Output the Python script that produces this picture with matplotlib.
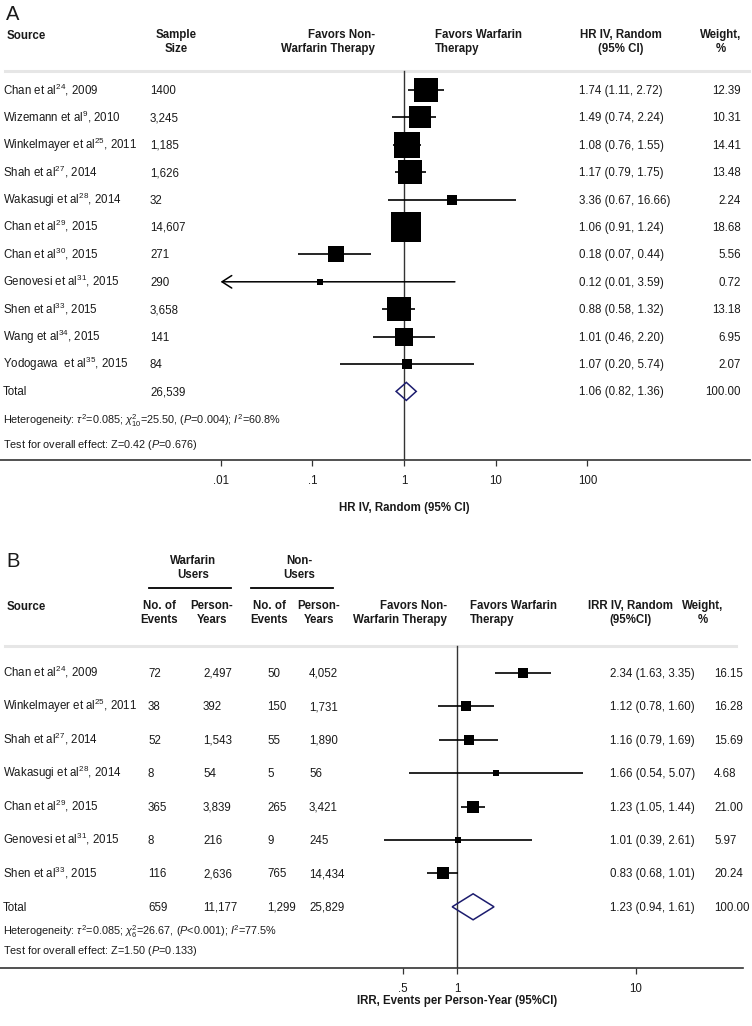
import numpy as np
import matplotlib
matplotlib.use("Agg")
import matplotlib.pyplot as plt

plt.rcParams["font.family"] = ["Liberation Sans", "DejaVu Sans"]
plt.rcParams["mathtext.fontset"] = "custom"
plt.rcParams["mathtext.rm"] = "Liberation Sans"
plt.rcParams["mathtext.it"] = "Liberation Sans:italic"
plt.rcParams["mathtext.bf"] = "Liberation Sans:bold"

# ---- panel A : HR
a_src = [r"Chan et al$^{24}$, 2009", r"Wizemann et al$^{9}$, 2010", r"Winkelmayer et al$^{25}$, 2011",
         r"Shah et al$^{27}$, 2014", r"Wakasugi et al$^{28}$, 2014", r"Chan et al$^{29}$, 2015",
         r"Chan et al$^{30}$, 2015", r"Genovesi et al$^{31}$, 2015", r"Shen et al$^{33}$, 2015",
         r"Wang et al$^{34}$, 2015", r"Yodogawa  et al$^{35}$, 2015"]
a_n = ["1400", "3,245", "1,185", "1,626", "32", "14,607", "271", "290", "3,658", "141", "84"]
a_hr = [1.74, 1.49, 1.08, 1.17, 3.36, 1.06, 0.18, 0.12, 0.88, 1.01, 1.07]
a_lo = [1.11, 0.74, 0.76, 0.79, 0.67, 0.91, 0.07, 0.01, 0.58, 0.46, 0.20]
a_hi = [2.72, 2.24, 1.55, 1.75, 16.66, 1.24, 0.44, 3.59, 1.32, 2.20, 5.74]
a_w = [12.39, 10.31, 14.41, 13.48, 2.24, 18.68, 5.56, 0.72, 13.18, 6.95, 2.07]
a_tot_n = "26,539"
a_tot = (1.06, 0.82, 1.36, 100.00)
a_ticks = [0.01, 0.1, 1, 10, 100]
a_ticklabels = [".01", ".1", "1", "10", "100"]
a_het = r"Heterogeneity: $\tau^2$=0.085; $\chi^2_{10}$=25.50, ($P$=0.004); $I^2$=60.8%"
a_test = r"Test for overall effect: Z=0.42 ($P$=0.676)"

# ---- panel B : IRR
b_src = [r"Chan et al$^{24}$, 2009", r"Winkelmayer et al$^{25}$, 2011", r"Shah et al$^{27}$, 2014",
         r"Wakasugi et al$^{28}$, 2014", r"Chan et al$^{29}$, 2015", r"Genovesi et al$^{31}$, 2015",
         r"Shen et al$^{33}$, 2015"]
b_ev_w = [72, 38, 52, 8, 365, 8, 116]
b_py_w = [2497, 392, 1543, 54, 3839, 216, 2636]
b_ev_n = [50, 150, 55, 5, 265, 9, 765]
b_py_n = [4052, 1731, 1890, 56, 3421, 245, 14434]
b_irr = [2.34, 1.12, 1.16, 1.66, 1.23, 1.01, 0.83]
b_lo = [1.63, 0.78, 0.79, 0.54, 1.05, 0.39, 0.68]
b_hi = [3.35, 1.60, 1.69, 5.07, 1.44, 2.61, 1.01]
b_w = [16.15, 16.28, 15.69, 4.68, 21.00, 5.97, 20.24]
b_tot_counts = [659, 11177, 1299, 25829]
b_tot = (1.23, 0.94, 1.61, 100.00)
b_ticks = [0.5, 1, 10]
b_ticklabels = [".5", "1", "10"]
b_het = r"Heterogeneity: $\tau^2$=0.085; $\chi^2_{6}$=26.67, ($P$<0.001); $I^2$=77.5%"
b_test = r"Test for overall effect: Z=1.50 ($P$=0.133)"

W, H = 752, 1026
FS = 8.3
TXT = "#1a1a1a"
LINE = "#333333"
NAVY = "#1c1c6e"
SEP = "#e6e6e6"

fig = plt.figure(figsize=(W / 100, H / 100), dpi=100)


def make_ax(top, bottom, one_px, decade):
    ax = fig.add_axes([0, (H - bottom) / H, 1, (bottom - top) / H])
    ax.set_xscale("log")
    ax.set_xlim(10 ** (-one_px / decade), 10 ** ((W - one_px) / decade))
    ax.set_ylim(bottom, top)
    for s in ax.spines.values():
        s.set_visible(False)
    ax.set_yticks([])
    ax.minorticks_off()
    ax.tick_params(axis="x", direction="out", length=4.5, width=0.9, color=LINE,
                   labelsize=FS, pad=6, labelcolor=TXT)
    ax.set_facecolor("none")
    return ax


def txt(ax, px, y, s, ha="left", bold=False, size=FS, **kw):
    # header / multi-line text, centred on y
    ax.text(px / W, y, s, transform=ax.get_yaxis_transform(), ha=ha, va="center",
            fontsize=size, color=TXT, fontweight="bold" if bold else "normal",
            linespacing=1.15, **kw)


def cell(ax, px, y, s, ha="left", size=FS):
    # table cells share one baseline so superscripts don't shift rows
    ax.text(px / W, y + 4, s, transform=ax.get_yaxis_transform(), ha=ha, va="baseline",
            fontsize=size, color=TXT)


def hline(ax, x0, x1, y, **kw):
    ax.plot([x0 / W, x1 / W], [y, y], transform=ax.get_yaxis_transform(), clip_on=False, **kw)


def fmt_ci(e, lo, hi):
    return f"{e:.2f} ({lo:.2f}, {hi:.2f})"


# ================= Panel A =================
axA = make_ax(0, 460, 404, 91.7)
y0, step = 90, 27.4
ya = [y0 + i * step for i in range(len(a_src) + 1)]

txt(axA, 6, 15, "A", size=14.5)
txt(axA, 7, 36, "Source", bold=True)
txt(axA, 176, 42, "Sample\nSize", ha="center", bold=True)
txt(axA, 375, 42, "Favors Non-\nWarfarin Therapy", ha="right", bold=True, multialignment="right")
txt(axA, 435, 42, "Favors Warfarin\nTherapy", bold=True)
txt(axA, 621, 42, "HR IV, Random\n(95% CI)", ha="center", bold=True)
txt(axA, 721, 42, "Weight,\n%", ha="center", bold=True)
hline(axA, 5, 749, 71, color=SEP, lw=2.2)

axA.plot([1, 1], [71, 460], color=LINE, lw=1, zorder=2)

for i, (s, n, e, lo, hi, w) in enumerate(zip(a_src, a_n, a_hr, a_lo, a_hi, a_w)):
    y = ya[i]
    cell(axA, 3, y, s)
    cell(axA, 150, y, n)
    cell(axA, 579, y, fmt_ci(e, lo, hi))
    cell(axA, 741, y, f"{w:.2f}", ha="right")
    if lo <= a_ticks[0]:
        axA.annotate("", xy=(a_ticks[0], y), xytext=(hi, y),
                     arrowprops=dict(arrowstyle="->,head_length=0.7,head_width=0.45",
                                     color="black", lw=1.1, shrinkA=0, shrinkB=0))
    else:
        axA.hlines(y, lo, hi, color="black", lw=1.2, zorder=3)
    axA.scatter([e], [y], marker="s", s=(4.9 * np.sqrt(w)) ** 2, color="black",
                linewidths=0, zorder=4)

yt = ya[-1]
e, lo, hi, w = a_tot
cell(axA, 3, yt, "Total")
cell(axA, 150, yt, a_tot_n)
cell(axA, 579, yt, fmt_ci(e, lo, hi))
cell(axA, 741, yt, f"{w:.2f}", ha="right")
axA.fill([lo, e, hi, e], [yt, yt - 9, yt, yt + 9], facecolor="none", edgecolor=NAVY, lw=1.1, zorder=4)

cell(axA, 3, 420, a_het, size=7.8)
cell(axA, 3, 444, a_test, size=7.8)
hline(axA, 0, 750, 460, color=LINE, lw=1.2)
axA.set_xticks(a_ticks)
axA.set_xticklabels(a_ticklabels)
axA.text(1, 508, "HR IV, Random (95% CI)", ha="center", va="center", fontsize=FS,
         fontweight="bold", color=TXT)

# ================= Panel B =================
axB = make_ax(500, 968, 457, 179)
y0, step = 673, 33.4
yb = [y0 + i * step for i in range(len(b_src) + 1)]

txt(axB, 6, 562, "B", size=14.5)
txt(axB, 193, 568, "Warfarin\nUsers", ha="center", bold=True)
txt(axB, 299, 568, "Non-\nUsers", ha="center", bold=True)
hline(axB, 149, 231, 588, color="black", lw=1.3)
hline(axB, 251, 333, 588, color="black", lw=1.3)
txt(axB, 7, 607, "Source", bold=True)
txt(axB, 159, 613, "No. of\nEvents", ha="center", bold=True)
txt(axB, 212, 613, "Person-\nYears", ha="center", bold=True)
txt(axB, 269, 613, "No. of\nEvents", ha="center", bold=True)
txt(axB, 319, 613, "Person-\nYears", ha="center", bold=True)
txt(axB, 447, 613, "Favors Non-\nWarfarin Therapy", ha="right", bold=True, multialignment="right")
txt(axB, 470, 613, "Favors Warfarin\nTherapy", bold=True)
txt(axB, 630, 613, "IRR IV, Random\n(95%CI)", ha="center", bold=True)
txt(axB, 703, 613, "Weight,\n%", ha="center", bold=True)
hline(axB, 5, 736, 646, color=SEP, lw=2.2)

axB.plot([1, 1], [646, 968], color=LINE, lw=1, zorder=2)

for i in range(len(b_src)):
    y = yb[i]
    cell(axB, 3, y, b_src[i])
    cell(axB, 148, y, f"{b_ev_w[i]:,}")
    cell(axB, 203, y, f"{b_py_w[i]:,}")
    cell(axB, 267, y, f"{b_ev_n[i]:,}")
    cell(axB, 309, y, f"{b_py_n[i]:,}")
    cell(axB, 610, y, fmt_ci(b_irr[i], b_lo[i], b_hi[i]))
    cell(axB, 714, y, f"{b_w[i]:.2f}")
    axB.hlines(y, b_lo[i], b_hi[i], color="black", lw=1.2, zorder=3)
    axB.scatter([b_irr[i]], [y], marker="s", s=(1.85 * np.sqrt(b_w[i])) ** 2, color="black",
                linewidths=0, zorder=4)

yt = yb[-1]
e, lo, hi, w = b_tot
cell(axB, 3, yt, "Total")
for px, v in zip([148, 203, 267, 309], b_tot_counts):
    cell(axB, px, yt, f"{v:,}")
cell(axB, 610, yt, fmt_ci(e, lo, hi))
cell(axB, 714, yt, f"{w:.2f}")
axB.fill([lo, e, hi, e], [yt, yt - 13, yt, yt + 13], facecolor="none", edgecolor=NAVY, lw=1.1, zorder=4)

cell(axB, 3, 931, b_het, size=7.8)
cell(axB, 3, 950, b_test, size=7.8)
hline(axB, 0, 743, 968, color=LINE, lw=1.2)
axB.set_xticks(b_ticks)
axB.set_xticklabels(b_ticklabels)
axB.text(1, 1001, "IRR, Events per Person-Year (95%CI)", ha="center", va="center", fontsize=FS,
         fontweight="bold", color=TXT)

fig.savefig("out.png", dpi=100, facecolor="white")
